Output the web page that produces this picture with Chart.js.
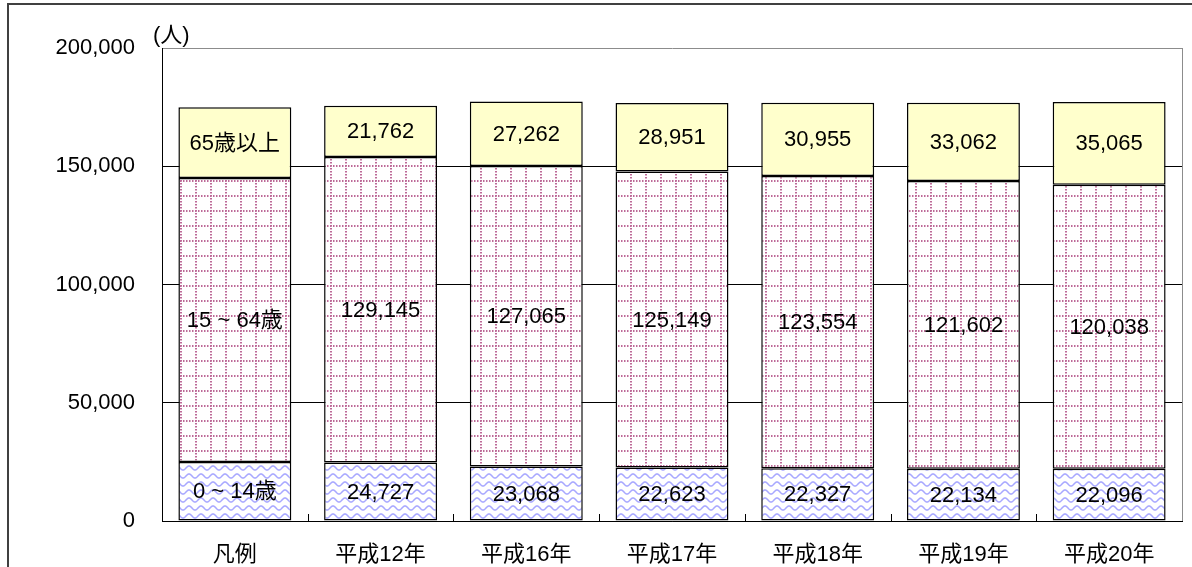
<!DOCTYPE html>
<html><head><meta charset="utf-8">
<script src="https://cdn.jsdelivr.net/npm/chart.js@4/dist/chart.umd.min.js"></script>
<style>html,body{margin:0;padding:0;background:#fff;}#wrap{width:1192px;height:567px;position:relative;}</style>
</head><body><div id="wrap"><canvas id="c" width="1192" height="567"></canvas></div>
<script>
const categories = ['凡例','平成12年','平成16年','平成17年','平成18年','平成19年','平成20年'];
const seriesNames = ['0 ~ 14歳','15 ~ 64歳','65歳以上'];
const age0to14 = [25000, 24727, 23068, 22623, 22327, 22134, 22096];
const age15to64 = [120000, 129145, 127065, 125149, 123554, 121602, 120038];
const age65plus = [30000, 21762, 27262, 28951, 30955, 33062, 35065];
const yTicks = [0, 50000, 100000, 150000, 200000];
const unitLabel = '(人)';

const FONT = "'Liberation Sans', Arial, 'Noto Sans CJK JP', sans-serif";

function wavePattern(){
  const c=document.createElement('canvas'); c.width=12; c.height=8;
  const g=c.getContext('2d'); g.fillStyle='#fff'; g.fillRect(0,0,12,8);
  g.strokeStyle='#a8a8ff'; g.lineWidth=1.6;
  for (const off of [-8,0,8]) {
    g.beginPath();
    for(let x=-1;x<=13;x+=0.5){const y=4+off+2*Math.sin(x/12*2*Math.PI); if(x===-1) g.moveTo(x,y); else g.lineTo(x,y);}
    g.stroke();
  }
  return g.createPattern(c,'repeat');
}
function dotGridPattern(){
  const c=document.createElement('canvas'); c.width=15; c.height=15;
  const g=c.getContext('2d'); g.fillStyle='#fff'; g.fillRect(0,0,15,15);
  g.fillStyle='#bd6a98';
  for(let i=0;i<15;i+=3){ g.fillRect(i,0,1.5,2); g.fillRect(0,i,2,1.5); }
  return g.createPattern(c,'repeat');
}

const fmt = v => v.toString().replace(/\B(?=(\d{3})+(?!\d))/g, ',');

const decorPlugin = {
  id:'decor',
  beforeDraw(chart){
    const ctx=chart.ctx; ctx.save();
    ctx.fillStyle='#fff'; ctx.fillRect(0,0,chart.width,chart.height);
    ctx.restore();
  },
  afterDatasetsDraw(chart){
    const ctx=chart.ctx, a=chart.chartArea, xs=chart.scales.x;
    ctx.save();
    ctx.strokeStyle='#8c8c8c'; ctx.lineWidth=1;
    ctx.beginPath(); ctx.moveTo(a.right+0.5,a.top); ctx.lineTo(a.right+0.5,a.bottom); ctx.stroke();
    ctx.strokeStyle='#000';
    const n=categories.length;
    for(let i=1;i<n;i++){
      const x=Math.round((xs.getPixelForValue(i-1)+xs.getPixelForValue(i))/2)+0.5;
      ctx.beginPath(); ctx.moveTo(x,a.bottom); ctx.lineTo(x,a.bottom-7); ctx.stroke();
    }
    ctx.fillStyle='#000'; ctx.font='22px '+FONT; ctx.textAlign='center'; ctx.textBaseline='middle';
    chart.data.datasets.forEach((ds,di)=>{
      const meta=chart.getDatasetMeta(di);
      meta.data.forEach((el,i)=>{
        const txt = i===0 ? seriesNames[di] : fmt(ds.data[i]);
        ctx.fillText(txt, el.x, (el.y+el.base)/2+1);
      });
    });
    ctx.textAlign='left';
    ctx.fillText(unitLabel, a.left-9, a.top-12);
    ctx.strokeStyle='#404040'; ctx.lineWidth=2;
    ctx.beginPath(); ctx.moveTo(8,chart.height+5); ctx.lineTo(8,4); ctx.lineTo(chart.width+5,4); ctx.stroke();
    ctx.restore();
  }
};

const ctx=document.getElementById('c').getContext('2d');
new Chart(ctx,{
  type:'bar',
  data:{
    labels:categories,
    datasets:[
      {label:seriesNames[0], data:age0to14, backgroundColor:wavePattern(), borderColor:'#000', borderWidth:1.5, borderSkipped:false},
      {label:seriesNames[1], data:age15to64, backgroundColor:dotGridPattern(), borderColor:'#000', borderWidth:1.5, borderSkipped:false},
      {label:seriesNames[2], data:age65plus, backgroundColor:'#ffffcc', borderColor:'#000', borderWidth:1.5, borderSkipped:false}
    ]
  },
  options:{
    responsive:false, animation:false,
    layout:{padding:{top:48,right:10,left:0,bottom:0}},
    plugins:{legend:{display:false},tooltip:{enabled:false},title:{display:false}},
    datasets:{bar:{barPercentage:0.775,categoryPercentage:1}},
    scales:{
      x:{
        stacked:true,
        grid:{display:true,drawOnChartArea:false,drawTicks:false},
        border:{display:true,color:'#000',width:1},
        ticks:{font:{size:22,family:FONT},color:'#000',padding:21,maxRotation:0},
        afterFit(s){s.height=46;}
      },
      y:{
        stacked:true, min:0, max:200000,
        afterBuildTicks(s){ s.ticks = yTicks.map(v=>({value:v})); },
        grid:{drawTicks:false, color:(c)=> c.tick && c.tick.value===200000 ? '#8c8c8c' : '#000', lineWidth:1},
        border:{display:true,color:'#000',width:1},
        ticks:{font:{size:22,family:FONT},color:'#000',padding:27,callback:(v)=>fmt(v)},
        afterFit(s){s.width=162;}
      }
    }
  },
  plugins:[decorPlugin]
});
</script></body></html>
